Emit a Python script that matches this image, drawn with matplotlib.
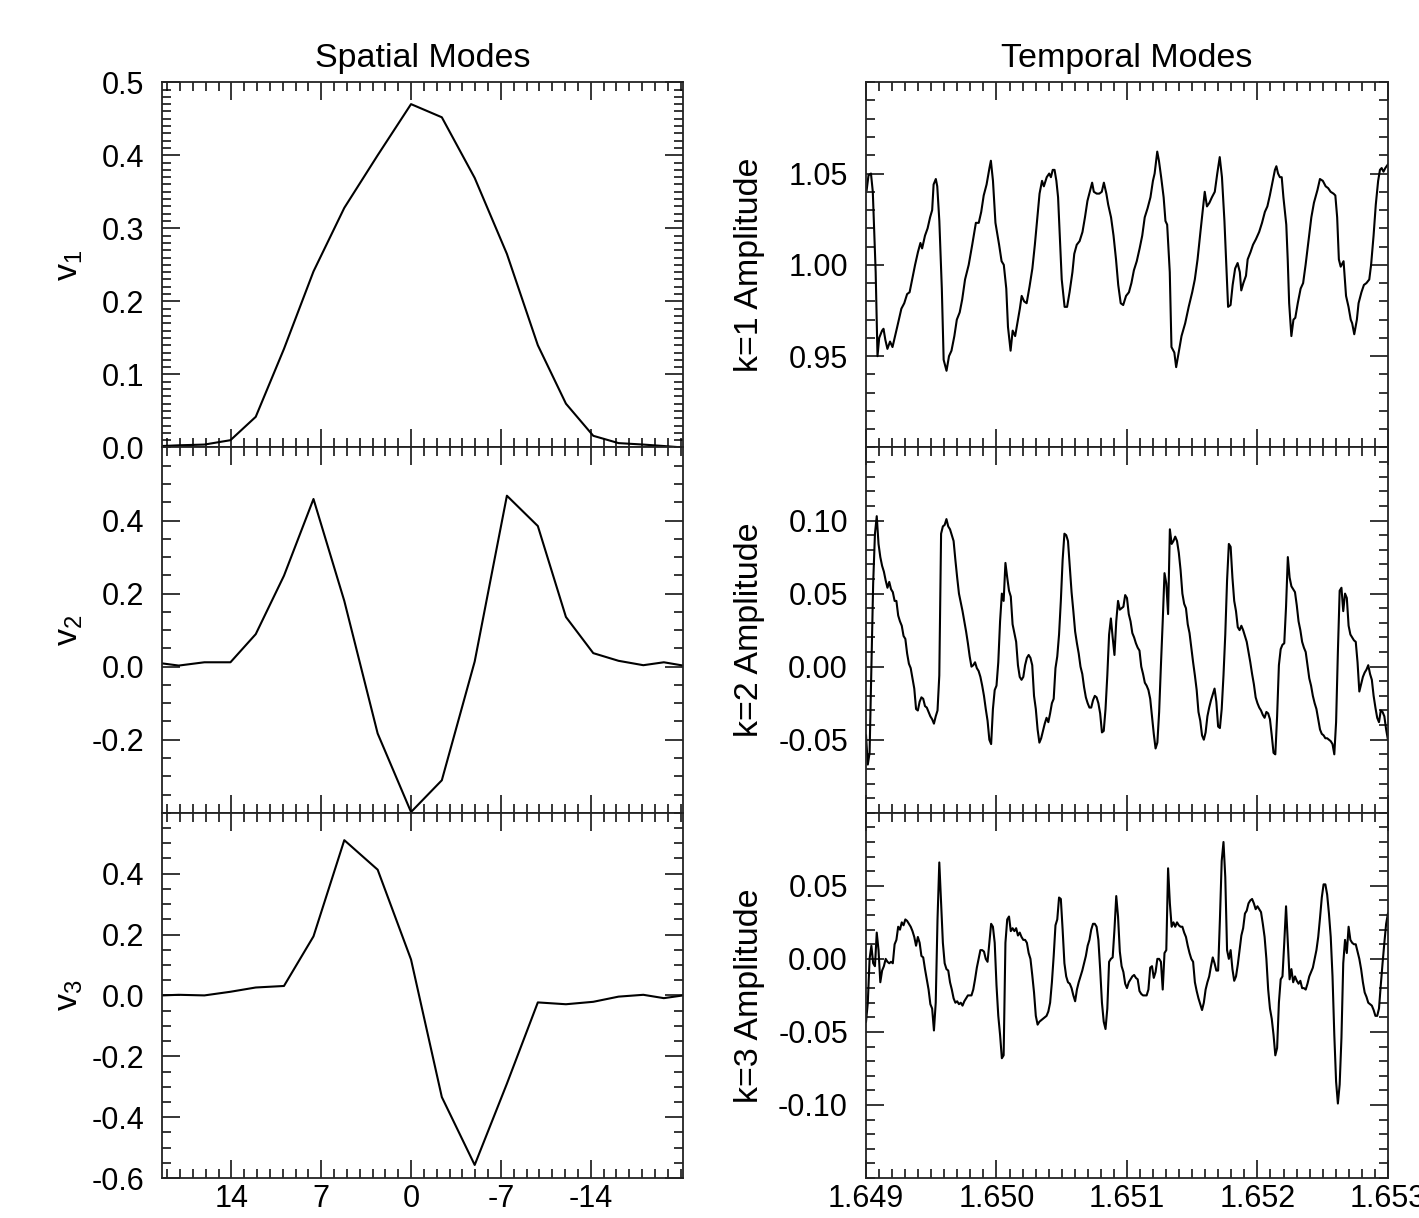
import numpy as np
import matplotlib
matplotlib.use("Agg")
import matplotlib.pyplot as plt
from matplotlib.ticker import FixedLocator, MultipleLocator, FormatStrFormatter

plt.rcParams["font.family"] = ["Liberation Sans", "DejaVu Sans"]
plt.rcParams["axes.unicode_minus"] = False

# spatial modes: position grid and the three eigenvectors
pos = [19.4, 18.1, 16.1, 14.07, 12.1, 9.9, 7.6, 5.2, 2.6, 0.0,
       -2.4, -4.96, -7.47, -9.88, -12.07, -14.2, -16.17, -18.1, -19.7, -21.2]
v1 = [0.002, 0.003, 0.004, 0.010, 0.042, 0.135, 0.241, 0.328, 0.400, 0.470,
      0.452, 0.369, 0.265, 0.140, 0.060, 0.016, 0.006, 0.004, 0.002, 0.000]
v2 = [0.009, 0.003, 0.012, 0.012, 0.089, 0.249, 0.459, 0.180, -0.183, -0.398,
      -0.311, 0.014, 0.468, 0.385, 0.136, 0.037, 0.016, 0.004, 0.012, 0.003]
v3 = [0.000, 0.002, 0.000, 0.012, 0.026, 0.031, 0.194, 0.510, 0.413, 0.118,
      -0.334, -0.557, -0.290, -0.023, -0.029, -0.021, -0.004, 0.002, -0.009, 0.000]

# temporal modes: time offsets in ms after 1.649
k1_ms = [0.005, 0.019, 0.038, 0.052, 0.074, 0.088, 0.101, 0.123, 0.134, 0.148,
         0.164, 0.184, 0.203, 0.219, 0.239, 0.252, 0.271, 0.293, 0.315, 0.334,
         0.354, 0.376, 0.398, 0.417, 0.430, 0.452, 0.472, 0.491, 0.507, 0.518,
         0.535, 0.546, 0.562, 0.581, 0.595, 0.617, 0.636, 0.655, 0.677, 0.696,
         0.718, 0.737, 0.759, 0.787, 0.814, 0.842, 0.864, 0.883, 0.902, 0.924,
         0.946, 0.957, 0.973, 0.992, 1.020, 1.039, 1.056, 1.075, 1.088, 1.108,
         1.124, 1.143, 1.162, 1.179, 1.193, 1.212, 1.231, 1.253, 1.275, 1.294,
         1.308, 1.330, 1.349, 1.363, 1.385, 1.404, 1.417, 1.431, 1.445, 1.459,
         1.472, 1.486, 1.500, 1.522, 1.541, 1.560, 1.582, 1.596, 1.615, 1.637,
         1.659, 1.678, 1.697, 1.719, 1.733, 1.746, 1.768, 1.788, 1.807, 1.823,
         1.842, 1.856, 1.878, 1.897, 1.916, 1.933, 1.952, 1.971, 1.993, 2.015,
         2.034, 2.053, 2.075, 2.097, 2.117, 2.136, 2.158, 2.180, 2.199, 2.212,
         2.232, 2.245, 2.262, 2.281, 2.295, 2.308, 2.328, 2.341, 2.363, 2.377,
         2.396, 2.418, 2.446, 2.473, 2.500, 2.520, 2.541, 2.563, 2.583, 2.596,
         2.613, 2.632, 2.651, 2.673, 2.692, 2.711, 2.728, 2.747, 2.761, 2.775,
         2.794, 2.810, 2.829, 2.848, 2.865, 2.876, 2.892, 2.912, 2.925, 2.947,
         2.966, 2.988, 3.013, 3.035, 3.057, 3.076, 3.095, 3.117, 3.134, 3.145,
         3.158, 3.172, 3.186, 3.199, 3.221, 3.232, 3.243, 3.260, 3.276, 3.290,
         3.309, 3.331, 3.350, 3.369, 3.391, 3.413, 3.433, 3.460, 3.479, 3.501,
         3.523, 3.542, 3.561, 3.583, 3.597, 3.611, 3.624, 3.638, 3.660, 3.679,
         3.698, 3.715, 3.726, 3.742, 3.762, 3.775, 3.797, 3.816, 3.835, 3.857,
         3.871, 3.890, 3.907, 3.925, 3.939, 3.952, 3.966, 3.980, 4.000]
k1 = [1.041, 1.049, 1.050, 1.040, 0.996, 0.950, 0.960, 0.964, 0.965, 0.959,
      0.954, 0.958, 0.955, 0.960, 0.966, 0.970, 0.976, 0.979, 0.984, 0.985,
      0.992, 1.000, 1.007, 1.012, 1.009, 1.016, 1.020, 1.026, 1.030, 1.044,
      1.047, 1.043, 1.024, 0.987, 0.948, 0.942, 0.950, 0.953, 0.961, 0.970,
      0.974, 0.981, 0.992, 1.000, 1.011, 1.023, 1.023, 1.029, 1.038, 1.044,
      1.053, 1.057, 1.046, 1.023, 1.011, 1.002, 1.000, 0.987, 0.966, 0.953,
      0.964, 0.961, 0.969, 0.976, 0.983, 0.980, 0.979, 0.988, 0.998, 1.011,
      1.022, 1.039, 1.046, 1.043, 1.048, 1.050, 1.048, 1.052, 1.052, 1.046,
      1.037, 1.014, 0.992, 0.977, 0.977, 0.985, 0.996, 1.006, 1.011, 1.013,
      1.018, 1.026, 1.035, 1.041, 1.045, 1.040, 1.039, 1.039, 1.040, 1.045,
      1.039, 1.033, 1.026, 1.016, 1.003, 0.989, 0.979, 0.978, 0.983, 0.985,
      0.990, 0.997, 1.002, 1.009, 1.016, 1.026, 1.031, 1.037, 1.046, 1.050,
      1.062, 1.057, 1.048, 1.037, 1.024, 1.022, 0.996, 0.955, 0.952, 0.944,
      0.952, 0.961, 0.968, 0.977, 0.985, 0.992, 1.003, 1.018, 1.031, 1.040,
      1.032, 1.034, 1.037, 1.040, 1.050, 1.059, 1.048, 1.024, 1.000, 0.977,
      0.978, 0.989, 0.998, 1.001, 0.996, 0.986, 0.990, 0.994, 1.003, 1.007,
      1.011, 1.014, 1.018, 1.023, 1.029, 1.032, 1.038, 1.046, 1.052, 1.054,
      1.050, 1.048, 1.048, 1.037, 1.022, 1.003, 0.979, 0.961, 0.970, 0.971,
      0.979, 0.987, 0.990, 1.000, 1.013, 1.026, 1.034, 1.041, 1.047, 1.046,
      1.043, 1.042, 1.040, 1.039, 1.038, 1.026, 1.003, 0.999, 1.002, 0.983,
      0.977, 0.970, 0.968, 0.962, 0.970, 0.979, 0.985, 0.989, 0.990, 0.992,
      1.000, 1.016, 1.033, 1.046, 1.052, 1.053, 1.051, 1.053, 1.055]

k2 = [-0.047, -0.067, -0.059, -0.001, 0.057, 0.091, 0.103, 0.084, 0.075, 0.069,
      0.065, 0.059, 0.054, 0.058, 0.053, 0.051, 0.045, 0.045, 0.035, 0.031,
      0.028, 0.021, 0.019, 0.009, 0.002, -0.001, -0.008, -0.015, -0.029, -0.030,
      -0.024, -0.021, -0.022, -0.027, -0.028, -0.031, -0.034, -0.036, -0.039, -0.034,
      -0.030, -0.006, 0.091, 0.096, 0.097, 0.101, 0.096, 0.094, 0.090, 0.086,
      0.073, 0.061, 0.050, 0.044, 0.038, 0.031, 0.024, 0.016, 0.007, 0.000,
      0.001, 0.003, -0.001, -0.003, -0.007, -0.013, -0.020, -0.029, -0.037, -0.050,
      -0.053, -0.029, -0.016, -0.013, 0.003, 0.031, 0.050, 0.045, 0.071, 0.061,
      0.052, 0.048, 0.029, 0.023, 0.017, 0.001, -0.007, -0.009, -0.007, 0.001,
      0.006, 0.008, 0.006, 0.001, -0.020, -0.029, -0.043, -0.052, -0.049, -0.044,
      -0.039, -0.035, -0.038, -0.032, -0.025, -0.022, -0.001, 0.007, 0.022, 0.045,
      0.073, 0.091, 0.090, 0.086, 0.068, 0.051, 0.038, 0.024, 0.016, 0.009,
      0.000, -0.005, -0.014, -0.021, -0.025, -0.028, -0.028, -0.023, -0.020, -0.021,
      -0.025, -0.032, -0.045, -0.044, -0.029, -0.006, 0.022, 0.033, 0.020, 0.008,
      0.031, 0.045, 0.039, 0.040, 0.041, 0.049, 0.047, 0.036, 0.031, 0.023,
      0.020, 0.016, 0.013, 0.011, 0.000, -0.005, -0.011, -0.013, -0.016, -0.022,
      -0.034, -0.046, -0.056, -0.052, -0.031, 0.001, 0.031, 0.064, 0.057, 0.036,
      0.094, 0.084, 0.086, 0.089, 0.086, 0.078, 0.066, 0.050, 0.043, 0.040,
      0.029, 0.023, 0.013, 0.003, -0.006, -0.016, -0.031, -0.037, -0.047, -0.050,
      -0.045, -0.034, -0.028, -0.023, -0.019, -0.015, -0.024, -0.041, -0.042, -0.029,
      -0.006, 0.022, 0.059, 0.084, 0.082, 0.061, 0.045, 0.038, 0.027, 0.025,
      0.028, 0.025, 0.021, 0.017, 0.010, 0.003, -0.005, -0.012, -0.021, -0.025,
      -0.028, -0.030, -0.033, -0.035, -0.031, -0.032, -0.036, -0.047, -0.059, -0.060,
      -0.034, 0.001, 0.012, 0.015, 0.016, 0.041, 0.075, 0.061, 0.055, 0.053,
      0.051, 0.042, 0.031, 0.025, 0.017, 0.013, 0.010, 0.001, -0.008, -0.013,
      -0.020, -0.025, -0.029, -0.036, -0.043, -0.046, -0.047, -0.049, -0.049, -0.050,
      -0.051, -0.053, -0.060, -0.038, 0.010, 0.052, 0.054, 0.038, 0.050, 0.047,
      0.028, 0.022, 0.020, 0.018, 0.017, 0.003, -0.017, -0.012, -0.007, -0.004,
      -0.002, 0.001, -0.005, -0.009, -0.020, -0.028, -0.035, -0.038, -0.030, -0.031,
      -0.034, -0.043, -0.050]

k3 = [-0.043, -0.030, 0.000, 0.009, -0.003, -0.005, 0.018, 0.006, -0.016, -0.008,
      -0.005, 0.000, -0.002, -0.003, -0.002, -0.003, 0.010, 0.013, 0.022, 0.020,
      0.025, 0.023, 0.027, 0.026, 0.024, 0.022, 0.019, 0.015, 0.009, 0.015,
      0.011, 0.002, 0.001, -0.007, -0.014, -0.021, -0.031, -0.034, -0.049, -0.030,
      0.027, 0.066, 0.038, 0.011, -0.003, -0.007, -0.008, -0.016, -0.021, -0.027,
      -0.030, -0.029, -0.031, -0.030, -0.032, -0.029, -0.027, -0.025, -0.025, -0.025,
      -0.021, -0.014, -0.006, 0.000, 0.006, 0.006, 0.005, 0.000, -0.002, 0.011,
      0.024, 0.022, 0.011, -0.018, -0.039, -0.052, -0.068, -0.066, 0.011, 0.027,
      0.029, 0.019, 0.021, 0.019, 0.021, 0.016, 0.018, 0.015, 0.013, 0.013,
      0.011, 0.004, 0.000, -0.011, -0.023, -0.039, -0.045, -0.043, -0.042, -0.041,
      -0.040, -0.039, -0.036, -0.030, -0.016, 0.002, 0.023, 0.027, 0.042, 0.041,
      0.020, -0.003, -0.012, -0.016, -0.017, -0.020, -0.025, -0.029, -0.021, -0.016,
      -0.012, -0.008, -0.003, 0.002, 0.009, 0.013, 0.020, 0.024, 0.024, 0.022,
      0.013, -0.007, -0.030, -0.043, -0.048, -0.034, -0.002, 0.000, 0.001, 0.020,
      0.043, 0.029, 0.005, -0.005, -0.009, -0.017, -0.020, -0.016, -0.014, -0.012,
      -0.011, -0.013, -0.014, -0.022, -0.024, -0.025, -0.025, -0.025, -0.021, -0.006,
      -0.005, -0.013, -0.009, 0.000, 0.000, -0.002, -0.021, 0.004, 0.006, 0.062,
      0.038, 0.022, 0.025, 0.022, 0.025, 0.023, 0.022, 0.022, 0.018, 0.015,
      0.009, 0.004, 0.000, -0.002, -0.016, -0.022, -0.027, -0.031, -0.035, -0.030,
      -0.021, -0.016, -0.012, -0.005, 0.001, -0.003, -0.008, -0.008, 0.027, 0.067,
      0.080, 0.056, 0.006, 0.000, 0.006, -0.007, -0.015, -0.012, -0.004, 0.006,
      0.016, 0.021, 0.031, 0.033, 0.038, 0.040, 0.041, 0.038, 0.034, 0.036,
      0.034, 0.032, 0.024, 0.015, 0.000, -0.021, -0.034, -0.041, -0.052, -0.066,
      -0.061, -0.030, -0.014, -0.012, 0.011, 0.036, 0.011, -0.014, -0.007, -0.016,
      -0.012, -0.015, -0.017, -0.015, -0.020, -0.020, -0.021, -0.017, -0.012, -0.009,
      -0.006, 0.000, 0.006, 0.015, 0.028, 0.042, 0.051, 0.051, 0.044, 0.031,
      0.015, -0.012, -0.052, -0.084, -0.099, -0.086, -0.054, -0.003, 0.013, 0.004,
      0.022, 0.013, 0.011, 0.010, 0.010, 0.005, 0.000, -0.007, -0.016, -0.023,
      -0.026, -0.030, -0.031, -0.032, -0.035, -0.039, -0.039, -0.034, -0.018, -0.003,
      0.011, 0.024, 0.031]

t1 = 1.649 + np.array(k1_ms) * 1e-3
t_grid = np.linspace(1.649, 1.653, len(k2))

FS = 22      # tick labels
LFS = 24.5   # axis labels and titles
fig = plt.figure(figsize=(14.19, 12.18), dpi=100)

h = 0.2999
bottoms = [0.6326, 0.3327, 0.0328]
left_axes = [fig.add_axes([0.1142, b, 0.3672, h]) for b in bottoms]
right_axes = [fig.add_axes([0.6103, b, 0.3678, h]) for b in bottoms]


def idl_style(ax, show_x):
    ax.tick_params(which="both", direction="in", top=True, right=True,
                   width=1.1, colors="black", labelsize=FS)
    ax.tick_params(which="major", length=13)
    ax.tick_params(which="minor", length=6.5)
    ax.tick_params(axis="y", pad=13)
    ax.tick_params(axis="x", pad=4, labelbottom=show_x)
    for s in ax.spines.values():
        s.set_linewidth(1.3)
        s.set_color("#222222")


# left column
spatial = [v1, v2, v3]
ylims = [(0.0, 0.5), (-0.4, 0.6), (-0.6, 0.6)]
ymajors = [[0.0, 0.1, 0.2, 0.3, 0.4, 0.5], [-0.2, 0.0, 0.2, 0.4],
           [-0.6, -0.4, -0.2, 0.0, 0.2, 0.4]]
yminors = [0.01, 0.05, 0.05]
for i, ax in enumerate(left_axes):
    ax.plot(pos, spatial[i], color="black", lw=1.5)
    ax.set_xlim(pos[0], pos[-1])
    ax.set_ylim(*ylims[i])
    ax.xaxis.set_major_locator(FixedLocator([14, 7, 0, -7, -14]))
    ax.xaxis.set_minor_locator(MultipleLocator(1))
    ax.yaxis.set_major_locator(FixedLocator(ymajors[i]))
    ax.yaxis.set_minor_locator(MultipleLocator(yminors[i]))
    ax.yaxis.set_major_formatter(FormatStrFormatter("%.1f"))
    ax.xaxis.set_major_formatter(FormatStrFormatter("%d"))
    idl_style(ax, i == 2)
    ax.set_ylabel(r"$\mathregular{v_%d}$" % (i + 1), fontsize=LFS)
    ax.yaxis.set_label_coords(-0.148, 0.5)

# right column
temporal = [(t1, k1), (t_grid, k2), (t_grid, k3)]
rlims = [(0.90, 1.10), (-0.10, 0.15), (-0.15, 0.10)]
rmajors = [[0.95, 1.00, 1.05], [-0.05, 0.0, 0.05, 0.10], [-0.10, -0.05, 0.0, 0.05]]
for i, ax in enumerate(right_axes):
    tt, vv = temporal[i]
    ax.plot(tt, vv, color="black", lw=1.5)
    ax.set_xlim(1.649, 1.653)
    ax.set_ylim(*rlims[i])
    ax.xaxis.set_major_locator(FixedLocator([1.649, 1.650, 1.651, 1.652, 1.653]))
    ax.xaxis.set_minor_locator(MultipleLocator(0.0001))
    ax.yaxis.set_major_locator(FixedLocator(rmajors[i]))
    ax.yaxis.set_minor_locator(MultipleLocator(0.01))
    ax.yaxis.set_major_formatter(FormatStrFormatter("%.2f"))
    ax.xaxis.set_major_formatter(FormatStrFormatter("%.3f"))
    idl_style(ax, i == 2)
    ax.set_ylabel("k=%d Amplitude" % (i + 1), fontsize=LFS)
    ax.yaxis.set_label_coords(-0.194, 0.5)

left_axes[0].set_title("Spatial Modes", fontsize=LFS, pad=11)
right_axes[0].set_title("Temporal Modes", fontsize=LFS, pad=11)

fig.savefig("out.png", dpi=100)
